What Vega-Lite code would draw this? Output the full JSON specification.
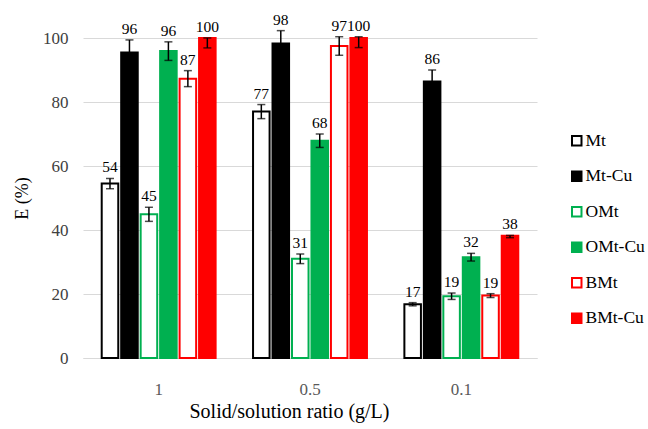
{
  "$schema": "https://vega.github.io/schema/vega-lite/v6.json",
  "width": 454,
  "height": 320,
  "autosize": "none",
  "padding": {"left": 83, "top": 38, "right": 111, "bottom": 71},
  "background": "white",
  "config": {
    "font": "Liberation Serif",
    "view": {"stroke": null},
    "text": {"font": "Liberation Serif"},
    "axis": {"titleFontWeight": "normal", "labelFont": "Liberation Serif", "titleFont": "Liberation Serif"},
    "legend": {"labelFont": "Liberation Serif", "titleFont": "Liberation Serif"}
  },
  "data": {
    "values": [
      {"ratio": "1", "series": "Mt", "E": 54.5, "lo": 52.9, "hi": 56.1, "label": "54"},
      {"ratio": "1", "series": "Mt-Cu", "E": 95.5, "lo": 91.6, "hi": 99.4, "label": "96"},
      {"ratio": "1", "series": "OMt", "E": 44.9, "lo": 42.7, "hi": 47.1, "label": "45"},
      {"ratio": "1", "series": "OMt-Cu", "E": 95.9, "lo": 93.0, "hi": 98.8, "label": "96"},
      {"ratio": "1", "series": "BMt", "E": 87.3, "lo": 84.8, "hi": 89.8, "label": "87"},
      {"ratio": "1", "series": "BMt-Cu", "E": 100, "lo": 96.9, "hi": 100, "label": "100"},
      {"ratio": "0.5", "series": "Mt", "E": 77.0, "lo": 74.8, "hi": 79.2, "label": "77"},
      {"ratio": "0.5", "series": "Mt-Cu", "E": 98.3, "lo": 94.3, "hi": 102.3, "label": "98"},
      {"ratio": "0.5", "series": "OMt", "E": 31.0, "lo": 29.5, "hi": 32.5, "label": "31"},
      {"ratio": "0.5", "series": "OMt-Cu", "E": 67.9, "lo": 65.8, "hi": 70.0, "label": "68"},
      {"ratio": "0.5", "series": "BMt", "E": 97.5, "lo": 94.6, "hi": 100.4, "label": "97"},
      {"ratio": "0.5", "series": "BMt-Cu", "E": 100, "lo": 97.0, "hi": 100.4, "label": "100"},
      {"ratio": "0.1", "series": "Mt", "E": 16.8, "lo": 16.3, "hi": 17.3, "label": "17"},
      {"ratio": "0.1", "series": "Mt-Cu", "E": 86.4, "lo": 82.8, "hi": 90.0, "label": "86"},
      {"ratio": "0.1", "series": "OMt", "E": 19.3, "lo": 18.3, "hi": 20.3, "label": "19"},
      {"ratio": "0.1", "series": "OMt-Cu", "E": 31.5, "lo": 30.3, "hi": 32.7, "label": "32"},
      {"ratio": "0.1", "series": "BMt", "E": 19.5, "lo": 18.9, "hi": 20.1, "label": "19"},
      {"ratio": "0.1", "series": "BMt-Cu", "E": 38.2, "lo": 37.6, "hi": 38.3, "label": "38"}
    ]
  },
  "encoding": {
    "x": {
      "field": "ratio",
      "type": "nominal",
      "sort": ["1", "0.5", "0.1"],
      "scale": {"paddingInner": 0.228, "paddingOuter": 0.114},
      "axis": {
        "title": "Solid/solution ratio (g/L)",
        "titleX": 206,
        "titleAlign": "center",
        "labelAngle": 0,
        "labelFontSize": 17,
        "labelColor": "#595959",
        "labelPadding": 23,
        "ticks": false,
        "domainColor": "#d9d9d9",
        "domainWidth": 1,
        "titleFontSize": 20,
        "titleColor": "#000000",
        "titlePadding": 4
      }
    },
    "xOffset": {
      "field": "series",
      "type": "nominal",
      "sort": ["Mt", "Mt-Cu", "OMt", "OMt-Cu", "BMt", "BMt-Cu"],
      "scale": {"paddingInner": 0.15, "paddingOuter": 0.075}
    }
  },
  "layer": [
    {
      "mark": {"type": "bar", "strokeWidth": 2},
      "encoding": {
        "y": {
          "field": "E",
          "type": "quantitative",
          "scale": {"domain": [0, 100]},
          "axis": {
            "title": "E (%)",
            "values": [0, 20, 40, 60, 80, 100],
            "labelFontSize": 17,
            "labelColor": "#404040",
            "labelPadding": 15,
            "ticks": false,
            "domain": false,
            "gridColor": "#d9d9d9",
            "gridWidth": 1,
            "titleFontSize": 18,
            "titleColor": "#000000",
            "titlePadding": 11
          }
        },
        "fill": {
          "field": "series",
          "type": "nominal",
          "sort": ["Mt", "Mt-Cu", "OMt", "OMt-Cu", "BMt", "BMt-Cu"],
          "scale": {
            "domain": ["Mt", "Mt-Cu", "OMt", "OMt-Cu", "BMt", "BMt-Cu"],
            "range": ["#ffffff", "#000000", "#ffffff", "#00b050", "#ffffff", "#ff0000"]
          },
          "legend": {
            "title": null,
            "orient": "none",
            "legendX": 485,
            "legendY": 94,
            "symbolType": "square",
            "symbolSize": 90,
            "symbolStrokeWidth": 2,
            "labelFont": "Liberation Serif",
            "labelFontSize": 17.5,
            "labelColor": "#000000",
            "labelOffset": 0,
            "rowPadding": 16.5
          }
        },
        "stroke": {
          "field": "series",
          "type": "nominal",
          "sort": ["Mt", "Mt-Cu", "OMt", "OMt-Cu", "BMt", "BMt-Cu"],
          "scale": {
            "domain": ["Mt", "Mt-Cu", "OMt", "OMt-Cu", "BMt", "BMt-Cu"],
            "range": ["#000000", "#000000", "#00b050", "#00b050", "#ff0000", "#ff0000"]
          },
          "legend": {
            "title": null,
            "orient": "none",
            "legendX": 485,
            "legendY": 94,
            "symbolType": "square",
            "symbolSize": 90,
            "symbolStrokeWidth": 2,
            "labelFont": "Liberation Serif",
            "labelFontSize": 17.5,
            "labelColor": "#000000",
            "labelOffset": 0,
            "rowPadding": 16.5
          }
        }
      }
    },
    {
      "mark": {"type": "rule", "color": "#000000", "strokeWidth": 1.5},
      "encoding": {
        "y": {"field": "lo", "type": "quantitative"},
        "y2": {"field": "hi"}
      }
    },
    {
      "mark": {"type": "tick", "color": "#000000", "size": 8, "thickness": 1.5},
      "encoding": {"y": {"field": "lo", "type": "quantitative"}}
    },
    {
      "mark": {"type": "tick", "color": "#000000", "size": 8, "thickness": 1.5},
      "encoding": {"y": {"field": "hi", "type": "quantitative"}}
    },
    {
      "mark": {"type": "text", "baseline": "alphabetic", "dy": -6, "fontSize": 15.5, "color": "#000000", "font": "Liberation Serif"},
      "encoding": {
        "y": {"field": "hi", "type": "quantitative"},
        "text": {"field": "label"}
      }
    }
  ]
}
